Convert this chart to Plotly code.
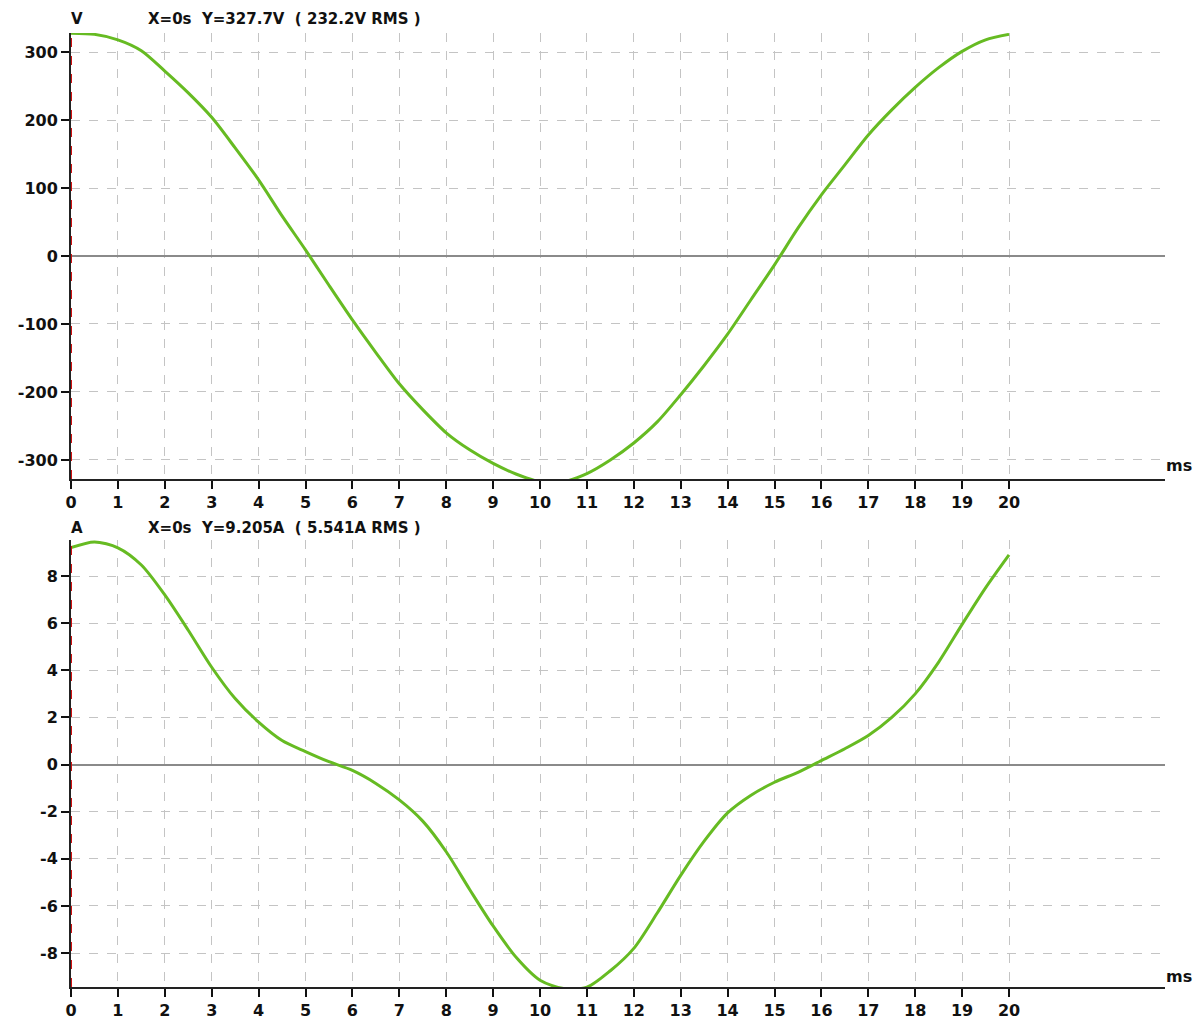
import plotly.graph_objects as go

# ---- data ----
t_ms = [0, 0.5, 1, 1.5, 2, 2.5, 3, 3.5, 4, 4.5, 5, 5.5, 6, 6.5, 7, 7.5, 8, 8.5, 9, 9.5,
        10, 10.5, 11, 11.5, 12, 12.5, 13, 13.5, 14, 14.5, 15, 15.5, 16, 16.5, 17, 17.5,
        18, 18.5, 19, 19.5, 20]
voltage = [327.7, 326, 318, 302, 272, 240, 204, 159, 112, 59, 9, -43, -94, -142, -188,
           -226, -260, -285, -305, -321, -332, -332, -320, -300, -275, -244, -204, -161,
           -115, -64, -13, 41, 90, 134, 178, 215, 248, 277, 301, 318, 326]
current = [9.205, 9.45, 9.2, 8.47, 7.2, 5.7, 4.13, 2.8, 1.8, 1.02, 0.55, 0.12, -0.25, -0.8,
           -1.5, -2.4, -3.7, -5.3, -6.85, -8.2, -9.15, -9.5, -9.45, -8.75, -7.8, -6.3, -4.7,
           -3.25, -2.05, -1.3, -0.75, -0.33, 0.17, 0.67, 1.23, 2.0, 3.0, 4.35, 5.95, 7.5, 8.9]

x_ticks = list(range(0, 21))
v_ticks = [-300, -200, -100, 0, 100, 200, 300]
a_ticks = [-8, -6, -4, -2, 0, 2, 4, 6, 8]

v_header = "X=0s  Y=327.7V  ( 232.2V RMS )"
a_header = "X=0s  Y=9.205A  ( 5.541A RMS )"

OFF = 8  # page body margin
W, H = 1203 - 2 * OFF, 1028 - OFF
GREEN = "#66bb22"
FONT = dict(family="DejaVu Sans, Verdana, sans-serif", size=15, color="#111111", weight="bold")


def px_x(p):
    return (p - OFF) / W


def px_y(p):
    return 1 - (p - OFF) / H


fig = go.Figure()
fig.add_trace(go.Scatter(x=t_ms, y=voltage, mode="lines", line=dict(color=GREEN, width=3, shape="spline", smoothing=0.8),
                         xaxis="x", yaxis="y", hoverinfo="skip"))
fig.add_trace(go.Scatter(x=t_ms, y=current, mode="lines", line=dict(color=GREEN, width=3, shape="spline", smoothing=0.8),
                         xaxis="x2", yaxis="y2", hoverinfo="skip"))

xdom = [px_x(71), px_x(1165)]
xrange_ = [0, (1165 - 71) / 46.9]

common_x = dict(range=xrange_, domain=xdom, tickmode="array", tickvals=x_ticks,
                ticktext=[str(v) for v in x_ticks], ticks="outside", ticklen=8, tickwidth=2,
                tickcolor="#111111", showline=True, linecolor="#222222", linewidth=2,
                showgrid=True, gridcolor="#c4c4c4", griddash="dash", gridwidth=1,
                zeroline=False, tickfont=dict(FONT, size=16), fixedrange=True, automargin=False)
common_y = dict(ticks="outside", ticklen=8, tickwidth=2, tickcolor="#111111",
                showline=True, linecolor="#222222", linewidth=2,
                showgrid=True, gridcolor="#c4c4c4", griddash="dash", gridwidth=1,
                zeroline=True, zerolinecolor="#8a8a8a", zerolinewidth=1.5,
                tickfont=dict(FONT, size=16), fixedrange=True, automargin=False)

fig.update_layout(
    width=W, height=H, margin=dict(l=0, r=0, t=0, b=0),
    paper_bgcolor="white", plot_bgcolor="white", showlegend=False,
    xaxis=dict(common_x, anchor="y"),
    yaxis=dict(common_y, anchor="x", domain=[px_y(479), px_y(33)], range=[-328, 328],
               tickvals=v_ticks, ticktext=[str(v) for v in v_ticks]),
    xaxis2=dict(common_x, anchor="y2"),
    yaxis2=dict(common_y, anchor="x2", domain=[px_y(987), px_y(540)], range=[-9.44, 9.53],
                tickvals=a_ticks, ticktext=[str(v) for v in a_ticks]),
)

# cursor lines at x=0
for xr, yr in (("x", "y domain"), ("x2", "y2 domain")):
    fig.add_shape(type="line", xref=xr, yref=yr, x0=0, x1=0, y0=0, y1=1,
                  line=dict(color="#d01010", width=2, dash="dash"), layer="above")

ann = []
for label, header, ypx in (("V", v_header, 8), ("A", a_header, 517)):
    ann.append(dict(x=px_x(69), y=px_y(ypx), xref="paper", yref="paper", text=label,
                    showarrow=False, xanchor="left", yanchor="top", font=dict(FONT, size=15)))
    ann.append(dict(x=px_x(146), y=px_y(ypx), xref="paper", yref="paper", text=header,
                    showarrow=False, xanchor="left", yanchor="top", font=dict(FONT, size=15)))
for ypx in (466, 976):
    ann.append(dict(x=px_x(1164), y=px_y(ypx), xref="paper", yref="paper", text="ms",
                    showarrow=False, xanchor="left", yanchor="middle", font=dict(FONT, size=16)))
fig.update_layout(annotations=ann)

fig.write_html("out.html")
